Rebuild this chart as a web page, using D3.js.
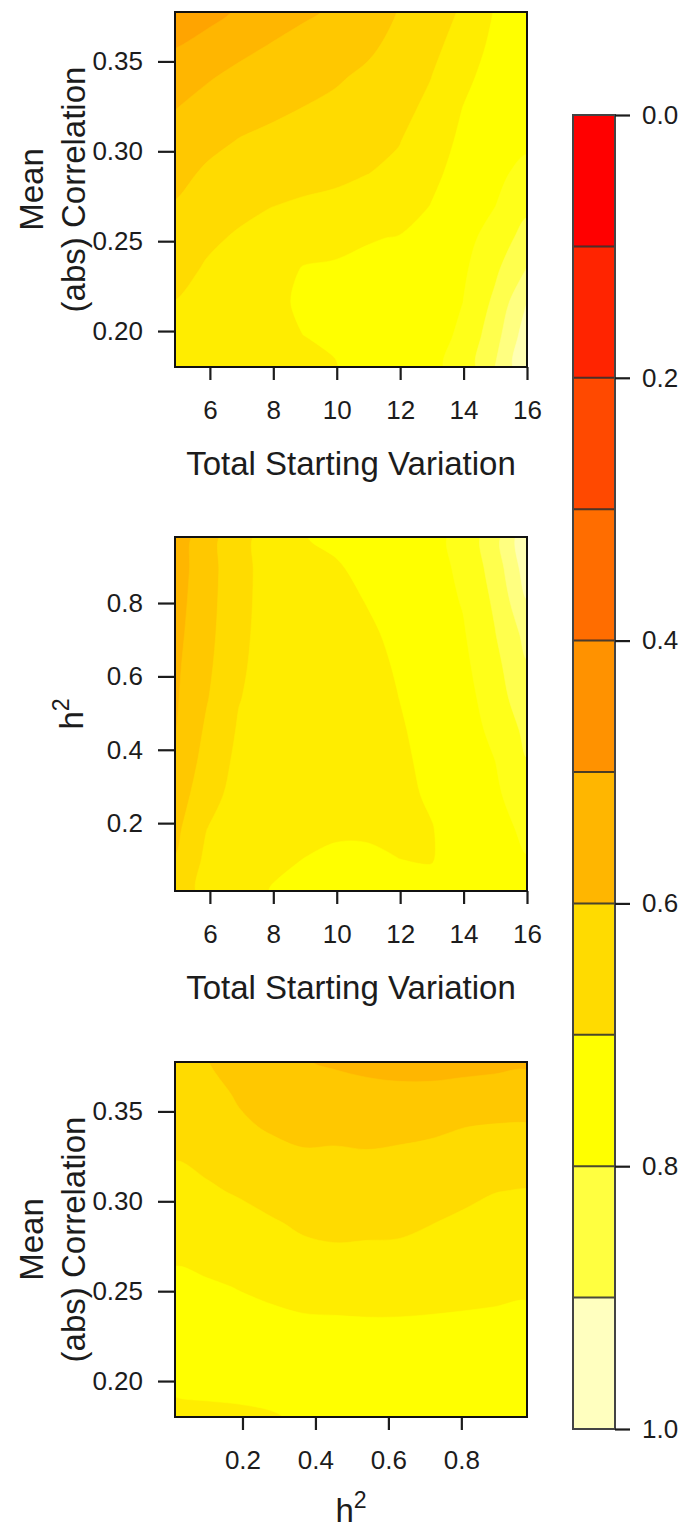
<!DOCTYPE html>
<html>
<head>
<meta charset="utf-8">
<script src="https://cdn.jsdelivr.net/npm/d3@7"></script>
<style>
  html, body { margin: 0; padding: 0; background: #ffffff; }
  svg { display: block; font-family: "Liberation Sans", Arial, Helvetica, sans-serif; }
</style>
</head>
<body>
<svg id="chart" width="684" height="1528"></svg>
<script>
// ---------------- data ----------------
// axis ranges
const tsvRange  = [4.9, 16];        // Total Starting Variation
const corrRange = [0.18, 0.3775];   // Mean (abs) Correlation
const h2Range   = [0.015, 0.98];    // h^2

// tick values
const tsvTicks  = [6, 8, 10, 12, 14, 16];
const corrTicks = [0.20, 0.25, 0.30, 0.35];
const h2Ticks   = [0.2, 0.4, 0.6, 0.8];
const keyTicks  = [0.0, 0.2, 0.4, 0.6, 0.8, 1.0];

// colour key break points
const keyLevels = [0.0, 0.1, 0.2, 0.3, 0.4, 0.5, 0.6, 0.7, 0.8, 0.9, 1.0];

// lower bounds of the filled contour bands in the panels
const fillLevels = [0.00, 0.05, 0.10, 0.15, 0.20, 0.25, 0.30, 0.35, 0.40, 0.45,
                    0.50, 0.55, 0.60, 0.65, 0.70, 0.75, 0.80, 0.85, 0.90, 0.95];

// surface: correlation (rows, top = high) x total starting variation (columns, left = low)
const corrByTsv = [
  [0.470, 0.484, 0.505, 0.528, 0.543, 0.555, 0.574, 0.602, 0.626, 0.656, 0.703, 0.713],
  [0.495, 0.514, 0.536, 0.551, 0.563, 0.575, 0.590, 0.613, 0.635, 0.672, 0.711, 0.720],
  [0.527, 0.545, 0.561, 0.572, 0.582, 0.594, 0.608, 0.625, 0.649, 0.688, 0.719, 0.728],
  [0.549, 0.567, 0.581, 0.591, 0.601, 0.610, 0.622, 0.636, 0.661, 0.701, 0.727, 0.735],
  [0.567, 0.587, 0.602, 0.611, 0.619, 0.626, 0.636, 0.648, 0.675, 0.710, 0.735, 0.743],
  [0.585, 0.607, 0.621, 0.630, 0.637, 0.642, 0.649, 0.660, 0.689, 0.717, 0.742, 0.760],
  [0.603, 0.624, 0.639, 0.649, 0.655, 0.659, 0.672, 0.676, 0.701, 0.726, 0.749, 0.788],
  [0.618, 0.642, 0.655, 0.665, 0.681, 0.685, 0.697, 0.702, 0.709, 0.734, 0.770, 0.820],
  [0.635, 0.655, 0.664, 0.677, 0.703, 0.707, 0.710, 0.714, 0.716, 0.742, 0.791, 0.853],
  [0.651, 0.663, 0.672, 0.687, 0.708, 0.713, 0.717, 0.720, 0.724, 0.750, 0.810, 0.900],
  [0.660, 0.671, 0.678, 0.688, 0.700, 0.708, 0.720, 0.724, 0.732, 0.758, 0.830, 0.925],
  [0.668, 0.676, 0.682, 0.685, 0.690, 0.697, 0.720, 0.727, 0.740, 0.766, 0.850, 0.940]
];

// surface: h^2 (rows, top = high) x total starting variation (columns)
const h2ByTsv = [
  [0.520, 0.579, 0.634, 0.671, 0.699, 0.705, 0.710, 0.720, 0.735, 0.765, 0.830, 0.940],
  [0.525, 0.580, 0.634, 0.670, 0.690, 0.697, 0.706, 0.716, 0.731, 0.760, 0.820, 0.925],
  [0.530, 0.582, 0.636, 0.669, 0.685, 0.690, 0.701, 0.712, 0.727, 0.753, 0.808, 0.898],
  [0.535, 0.585, 0.639, 0.669, 0.682, 0.686, 0.695, 0.707, 0.722, 0.745, 0.798, 0.866],
  [0.540, 0.590, 0.643, 0.669, 0.681, 0.684, 0.691, 0.703, 0.718, 0.738, 0.786, 0.846],
  [0.543, 0.597, 0.648, 0.670, 0.681, 0.684, 0.689, 0.700, 0.713, 0.731, 0.775, 0.834],
  [0.547, 0.608, 0.655, 0.672, 0.682, 0.685, 0.689, 0.697, 0.709, 0.725, 0.763, 0.812],
  [0.554, 0.620, 0.661, 0.676, 0.684, 0.688, 0.690, 0.695, 0.706, 0.719, 0.749, 0.798],
  [0.570, 0.633, 0.666, 0.681, 0.688, 0.692, 0.693, 0.694, 0.703, 0.714, 0.740, 0.785],
  [0.586, 0.649, 0.671, 0.688, 0.694, 0.697, 0.697, 0.695, 0.699, 0.710, 0.732, 0.762],
  [0.602, 0.660, 0.678, 0.695, 0.700, 0.703, 0.703, 0.700, 0.699, 0.708, 0.727, 0.748],
  [0.620, 0.667, 0.686, 0.701, 0.707, 0.709, 0.710, 0.708, 0.705, 0.710, 0.723, 0.742]
];

// surface: correlation (rows, top = high) x h^2 (columns)
const corrByH2 = [
  [0.612, 0.601, 0.585, 0.565, 0.552, 0.545, 0.539, 0.535, 0.535, 0.538, 0.540, 0.543],
  [0.627, 0.615, 0.595, 0.578, 0.567, 0.566, 0.562, 0.560, 0.560, 0.563, 0.567, 0.571],
  [0.635, 0.627, 0.607, 0.595, 0.585, 0.588, 0.585, 0.588, 0.592, 0.599, 0.603, 0.604],
  [0.649, 0.641, 0.627, 0.615, 0.608, 0.608, 0.606, 0.609, 0.613, 0.619, 0.626, 0.628],
  [0.664, 0.655, 0.646, 0.635, 0.626, 0.624, 0.623, 0.625, 0.631, 0.639, 0.649, 0.652],
  [0.680, 0.670, 0.664, 0.654, 0.644, 0.641, 0.640, 0.641, 0.649, 0.658, 0.664, 0.666],
  [0.695, 0.689, 0.682, 0.673, 0.660, 0.656, 0.659, 0.660, 0.667, 0.674, 0.678, 0.681],
  [0.710, 0.705, 0.699, 0.692, 0.685, 0.683, 0.680, 0.682, 0.686, 0.690, 0.693, 0.696],
  [0.715, 0.715, 0.710, 0.708, 0.704, 0.703, 0.702, 0.702, 0.703, 0.704, 0.705, 0.706],
  [0.712, 0.715, 0.714, 0.714, 0.713, 0.713, 0.712, 0.712, 0.712, 0.712, 0.712, 0.712],
  [0.703, 0.705, 0.706, 0.708, 0.712, 0.718, 0.718, 0.718, 0.718, 0.716, 0.715, 0.716],
  [0.695, 0.695, 0.696, 0.698, 0.703, 0.720, 0.720, 0.720, 0.720, 0.718, 0.716, 0.716]
];

// ---------------- palette ----------------
// heat palette: red -> yellow ramp, then yellow fading towards white
function heatColors(n) {
  const j = Math.floor(n / 4), i = n - j, out = [];
  for (let k = 0; k < i; k++) {
    const h = i > 1 ? k / (i - 1) / 6 : 0;
    out.push(d3.rgb(255, Math.floor(255 * h * 6 + 0.5), 0).formatHex());
  }
  const s0 = 1 - 1 / (2 * j), s1 = 1 / (2 * j);
  for (let k = 0; k < j; k++) {
    const s = j > 1 ? s0 + k * (s1 - s0) / (j - 1) : s0;
    out.push(d3.rgb(255, 255, Math.floor(255 * (1 - s) + 0.5)).formatHex());
  }
  return out;
}
const fillColors = heatColors(fillLevels.length);
const keyColors = heatColors(keyLevels.length - 1);

// ---------------- layout ----------------
const svg = d3.select("#chart");
const L = 175, R = 527;
const INK = "#1c1c1c";
const tickFont = 26, titleFont = 33;

const panels = [
  { grid: corrByTsv, xRange: tsvRange, yRange: corrRange, xTicks: tsvTicks, yTicks: corrTicks,
    xFmt: d3.format("d"), yFmt: d3.format(".2f"), top: 12, bottom: 367,
    xTitle: "tsv", yTitle: "corr" },
  { grid: h2ByTsv, xRange: tsvRange, yRange: h2Range, xTicks: tsvTicks, yTicks: h2Ticks,
    xFmt: d3.format("d"), yFmt: d3.format(".1f"), top: 537, bottom: 891,
    xTitle: "tsv", yTitle: "h2" },
  { grid: corrByH2, xRange: h2Range, yRange: corrRange, xTicks: h2Ticks, yTicks: corrTicks,
    xFmt: d3.format(".1f"), yFmt: d3.format(".2f"), top: 1062, bottom: 1417,
    xTitle: "h2", yTitle: "corr" }
];

const defs = svg.append("defs");

function styleAxis(sel) {
  sel.select(".domain").remove();
  sel.selectAll(".tick line").attr("stroke", INK).attr("stroke-width", 2.2);
  sel.selectAll(".tick text").attr("fill", INK).attr("font-size", tickFont)
     .attr("font-family", "Liberation Sans, Arial, sans-serif");
}

function h2Label(g, x, y, rotate) {
  const t = g.append("text")
    .attr("transform", `translate(${x},${y})` + (rotate ? " rotate(-90)" : ""))
    .attr("text-anchor", "middle")
    .attr("fill", INK)
    .attr("font-size", titleFont);
  t.append("tspan").text("h");
  t.append("tspan").attr("font-size", titleFont * 0.7).attr("dy", -titleFont * 0.42).text("2");
}

// smooth closed outline through the contour ring vertices
const ringLine = d3.line().curve(d3.curveCatmullRomClosed.alpha(0.5));

panels.forEach((p, idx) => {
  const g = svg.append("g");
  const x = d3.scaleLinear(p.xRange, [L, R]);
  const y = d3.scaleLinear(p.yRange, [p.bottom, p.top]);

  // filled contour bands
  const ny = p.grid.length, nx = p.grid[0].length;
  const bands = d3.contours().size([nx, ny]).thresholds(fillLevels)(p.grid.flat());
  // grid node k sits at contour coordinate k + 0.5; first/last nodes lie on the plot edges
  const gx = d3.scaleLinear([0.5, nx - 0.5], p.xRange);
  const gy = d3.scaleLinear([0.5, ny - 0.5], [p.yRange[1], p.yRange[0]]);
  const bandPath = d => d.coordinates.map(poly => poly.map(ring =>
      ringLine(ring.slice(0, -1).map(([a, b]) => [x(gx(a)), y(gy(b))]))
    ).join("")).join("");

  const clipId = "clip" + idx;
  defs.append("clipPath").attr("id", clipId)
    .append("rect").attr("x", L).attr("y", p.top)
    .attr("width", R - L).attr("height", p.bottom - p.top);

  g.append("g").attr("clip-path", `url(#${clipId})`)
    .selectAll("path").data(bands).join("path")
    .attr("d", bandPath)
    .attr("fill", d => fillColors[fillLevels.indexOf(d.value)])
    .attr("stroke", d => fillColors[fillLevels.indexOf(d.value)])
    .attr("stroke-width", 0.6);

  // axes
  g.append("g").attr("transform", `translate(0,${p.bottom})`)
    .call(d3.axisBottom(x).tickValues(p.xTicks).tickFormat(p.xFmt).tickSize(13).tickPadding(21))
    .call(styleAxis);
  g.append("g").attr("transform", `translate(${L},0)`)
    .call(d3.axisLeft(y).tickValues(p.yTicks).tickFormat(p.yFmt).tickSize(17).tickPadding(15))
    .call(styleAxis);

  // frame
  g.append("rect").attr("x", L).attr("y", p.top)
    .attr("width", R - L).attr("height", p.bottom - p.top)
    .attr("fill", "none").attr("stroke", "#111").attr("stroke-width", 2);

  // x title
  if (p.xTitle === "tsv") {
    g.append("text").attr("x", (L + R) / 2).attr("y", p.bottom + 108)
      .attr("text-anchor", "middle").attr("fill", INK).attr("font-size", titleFont)
      .text("Total Starting Variation");
  } else {
    h2Label(g, (L + R) / 2, p.bottom + 105, false);
  }

  // y title
  const cy = (p.top + p.bottom) / 2;
  if (p.yTitle === "corr") {
    g.append("text").attr("transform", `translate(43,${cy}) rotate(-90)`)
      .attr("text-anchor", "middle").attr("fill", INK).attr("font-size", titleFont)
      .text("Mean");
    g.append("text").attr("transform", `translate(85,${cy}) rotate(-90)`)
      .attr("text-anchor", "middle").attr("fill", INK).attr("font-size", titleFont)
      .text("(abs) Correlation");
  } else {
    h2Label(g, 83, cy, true);
  }
});

// ---------------- colour key ----------------
const keyX0 = 573, keyX1 = 615;
const keyY = d3.scaleLinear([0, 1], [115, 1429]);
const key = svg.append("g");

key.selectAll("rect.band").data(keyColors).join("rect")
  .attr("class", "band")
  .attr("x", keyX0).attr("width", keyX1 - keyX0)
  .attr("y", (d, i) => keyY(keyLevels[i]))
  .attr("height", (d, i) => keyY(keyLevels[i + 1]) - keyY(keyLevels[i]))
  .attr("fill", d => d);

key.selectAll("line.sep").data(keyLevels.slice(1, -1)).join("line")
  .attr("class", "sep")
  .attr("x1", keyX0).attr("x2", keyX1)
  .attr("y1", d => keyY(d)).attr("y2", d => keyY(d))
  .attr("stroke", "#2a2a2a").attr("stroke-opacity", 0.85).attr("stroke-width", 2);

key.append("rect").attr("x", keyX0).attr("y", keyY(0))
  .attr("width", keyX1 - keyX0).attr("height", keyY(1) - keyY(0))
  .attr("fill", "none").attr("stroke", "#444").attr("stroke-width", 2);

key.append("g").attr("transform", `translate(${keyX1},0)`)
  .call(d3.axisRight(keyY).tickValues(keyTicks).tickFormat(d3.format(".1f")).tickSize(15).tickPadding(12))
  .call(styleAxis);
</script>
</body>
</html>
